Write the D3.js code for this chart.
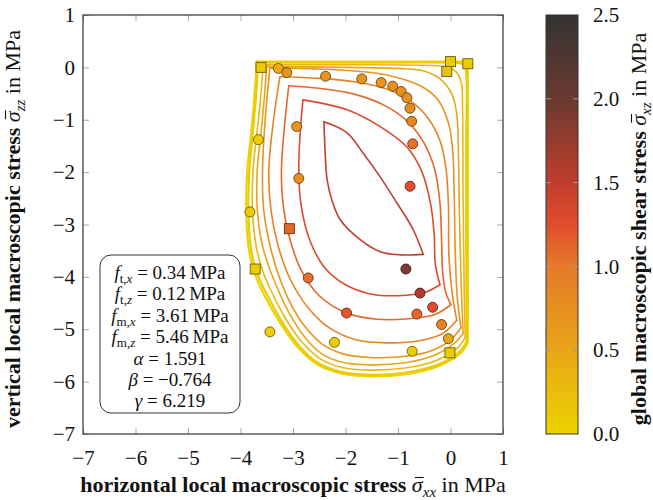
<!doctype html>
<html>
  <head>
    <meta charset="utf-8"/>
    <title>Yield surface</title>
    <style>
      body, html { margin: 0; padding: 0; background: white; }
      svg text { font-family: "Liberation Serif", "DejaVu Serif", serif; fill: #111; }
      .grid-tick { stroke: #a8a8a8; stroke-width: 1; }
      svg text.tick-label { font-size: 21px; }
      svg text.axis-title { font-size: 22px; }
      .legend text { font-size: 19px; }
    </style>
    <script src="https://d3js.org/d3.v7.min.js"></script>
  </head>
  <body>
    <svg width="653" height="500"></svg>
    <script>
      // shear level of each contour (outer yellow -> inner dark red)
      var contourShear = [0.0, 0.1, 0.3, 0.5, 0.7, 0.9, 1.1, 1.3, 1.5];

      // upper-right arc of each contour: top-left corner -> bottom-right corner
      var contourUpper = [
        [[-3.69,0.11],[-2.0,0.11],[0.0,0.11],[0.30,0.11],[0.33,0.10],[0.33,0.05],[0.33,-1.5],[0.33,-3.5],[0.33,-5.25]],
        [[-3.66,0.09],[-2.0,0.09],[0.0,0.09],[0.18,0.08],[0.27,0.03],[0.30,-0.10],[0.30,-1.5],[0.30,-3.5],[0.31,-5.23]],
        [[-3.57,0.05],[-2.0,0.05],[-0.5,0.04],[-0.08,0.01],[0.12,-0.10],[0.21,-0.32],[0.23,-0.8],[0.24,-2.5],[0.26,-4.2],[0.28,-5.16]],
        [[-3.50,0.02],[-2.0,0.0],[-1.0,-0.02],[-0.54,-0.06],[-0.20,-0.22],[0.03,-0.52],[0.12,-0.90],[0.15,-1.6],[0.17,-2.8],[0.20,-4.0],[0.24,-5.08]],
        [[-3.44,-0.01],[-2.5,-0.03],[-1.82,-0.07],[-1.19,-0.15],[-0.54,-0.37],[-0.24,-0.62],[-0.04,-1.06],[0.04,-1.57],[0.07,-2.4],[0.09,-3.5],[0.13,-4.4],[0.20,-4.97]],
        [[-3.25,-0.18],[-2.5,-0.21],[-1.8,-0.28],[-1.2,-0.42],[-0.75,-0.65],[-0.42,-0.98],[-0.2,-1.4],[-0.09,-1.9],[-0.04,-2.6],[-0.03,-3.6],[0.03,-4.3],[0.12,-4.83]],
        [[-3.08,-0.35],[-2.5,-0.40],[-1.8,-0.52],[-1.25,-0.73],[-0.82,-1.03],[-0.5,-1.45],[-0.3,-1.95],[-0.2,-2.6],[-0.17,-3.3],[-0.15,-3.9],[-0.09,-4.3],[0.01,-4.53]],
        [[-2.81,-0.62],[-1.97,-0.81],[-1.34,-1.13],[-0.83,-1.52],[-0.55,-1.98],[-0.38,-2.6],[-0.31,-3.2],[-0.29,-3.75],[-0.20,-4.15]],
        [[-2.41,-1.04],[-1.97,-1.25],[-1.67,-1.63],[-1.34,-2.09],[-1.02,-2.59],[-0.71,-3.10],[-0.52,-3.57]]
      ];

      // lower-left arc of each contour: bottom-right corner -> top-left corner
      var contourLower = [
        [[0.33,-5.25],[0.22,-5.43],[-0.24,-5.71],[-0.87,-5.86],[-1.53,-5.90],[-2.10,-5.84],[-2.54,-5.67],[-2.92,-5.33],[-3.25,-4.87],[-3.55,-4.34],[-3.72,-3.96],[-3.84,-3.48],[-3.89,-2.78],[-3.87,-1.95],[-3.80,-1.30],[-3.74,-0.62],[-3.69,0.11]],
        [[0.31,-5.23],[0.19,-5.41],[-0.25,-5.68],[-0.87,-5.83],[-1.53,-5.87],[-2.10,-5.81],[-2.53,-5.64],[-2.90,-5.30],[-3.22,-4.84],[-3.51,-4.31],[-3.68,-3.94],[-3.80,-3.46],[-3.85,-2.78],[-3.83,-1.95],[-3.77,-1.30],[-3.71,-0.62],[-3.66,0.09]],
        [[0.28,-5.16],[0.13,-5.36],[-0.28,-5.60],[-0.87,-5.74],[-1.53,-5.78],[-2.10,-5.72],[-2.50,-5.55],[-2.85,-5.22],[-3.15,-4.78],[-3.42,-4.26],[-3.58,-3.88],[-3.70,-3.42],[-3.77,-2.76],[-3.76,-1.95],[-3.69,-1.28],[-3.62,-0.62],[-3.57,0.05]],
        [[0.24,-5.08],[0.06,-5.28],[-0.32,-5.50],[-0.87,-5.64],[-1.53,-5.68],[-2.10,-5.62],[-2.48,-5.45],[-2.80,-5.12],[-3.08,-4.68],[-3.32,-4.16],[-3.47,-3.78],[-3.60,-3.33],[-3.68,-2.72],[-3.68,-1.95],[-3.61,-1.25],[-3.55,-0.62],[-3.50,0.02]],
        [[0.20,-4.97],[-0.02,-5.22],[-0.45,-5.44],[-1.0,-5.53],[-1.53,-5.54],[-2.05,-5.47],[-2.45,-5.28],[-2.78,-4.94],[-3.05,-4.50],[-3.28,-3.95],[-3.45,-3.35],[-3.56,-2.7],[-3.58,-1.95],[-3.53,-1.0],[-3.44,-0.01]],
        [[0.12,-4.83],[-0.15,-5.08],[-0.6,-5.22],[-1.2,-5.26],[-1.8,-5.20],[-2.3,-4.98],[-2.72,-4.58],[-3.05,-4.05],[-3.28,-3.42],[-3.42,-2.72],[-3.46,-1.95],[-3.37,-1.0],[-3.25,-0.18]],
        [[0.01,-4.53],[-0.3,-4.72],[-0.8,-4.80],[-1.4,-4.81],[-2.0,-4.68],[-2.5,-4.36],[-2.85,-3.86],[-3.08,-3.2],[-3.20,-2.5],[-3.22,-1.95],[-3.16,-1.1],[-3.08,-0.35]],
        [[-0.20,-4.15],[-0.50,-4.30],[-1.0,-4.36],[-1.5,-4.33],[-2.0,-4.15],[-2.4,-3.82],[-2.68,-3.3],[-2.85,-2.6],[-2.89,-1.95],[-2.86,-1.2],[-2.81,-0.62]],
        [[-0.52,-3.57],[-0.96,-3.58],[-1.34,-3.52],[-1.72,-3.29],[-2.10,-2.91],[-2.26,-2.53],[-2.35,-2.15],[-2.39,-1.57],[-2.41,-1.04]]
      ];

      // experiments, circles
      var circleX = [-3.28,-3.12,-2.38,-1.69,-1.32,-1.10,-0.94,-0.83,-0.77,-0.74,-0.72,-2.93,-2.89,-3.66,-3.82,-0.77,-0.85,-2.71,-1.98,-0.58,-0.34,-0.64,-0.17,-0.04,-0.73,-2.21,-3.44];
      var circleZ = [-0.02,-0.10,-0.17,-0.22,-0.29,-0.36,-0.46,-0.58,-0.78,-1.03,-1.46,-1.13,-2.12,-1.38,-2.76,-2.27,-3.85,-4.02,-4.69,-4.31,-4.58,-4.71,-4.91,-5.18,-5.42,-5.25,-5.05];
      var circleShear = [0.45,0.7,0.7,0.7,0.7,0.75,0.75,0.75,0.8,0.85,1.05,0.7,0.75,0.05,0.05,1.25,1.9,1.05,1.2,1.6,1.25,1.1,0.9,0.5,0.08,0.08,0.05];

      // experiments, squares
      var squareX = [-3.61, 0.00, -0.07, 0.33, -3.07, -3.72, -0.01];
      var squareZ = [0.00, 0.11, -0.08, 0.07, -3.08, -3.85, -5.45];
      var squareShear = [0.1, 0.1, 0.2, 0.1, 1.1, 0.1, 0.1];

      var xTicks = [-7, -6, -5, -4, -3, -2, -1, 0, 1];
      var yTicks = [-7, -6, -5, -4, -3, -2, -1, 0, 1];
      var barTicks = [0, 0.5, 1.0, 1.5, 2.0, 2.5];

      var paramNames = [["f", "t,", "x"], ["f", "t,", "z"], ["f", "m,", "x"], ["f", "m,", "z"], ["α"], ["β"], ["γ"]];
      var paramValues = ["0.34", "0.12", "3.61", "5.46", "1.591", "−0.764", "6.219"];

      var colorDomain = [0, 0.5, 1.0, 1.25, 1.5, 2.0, 2.5];
      var colorRange = ["#ecd400", "#e9a619", "#e67a29", "#e14c2e", "#c13e2c", "#6a3a31", "#333333"];

      var svg = d3.select("svg");
      var x = d3.scaleLinear().domain([-7, 1]).range([83, 503]);
      var y = d3.scaleLinear().domain([-7, 1]).range([434, 15]);
      var color = d3.scaleLinear().domain(colorDomain).range(colorRange);

      // inward ticks on all four sides
      var tl = 6;
      svg.append("g").attr("transform", "translate(0,434)")
        .call(d3.axisBottom(x).tickValues(xTicks).tickSizeInner(-tl).tickSizeOuter(0).tickPadding(16))
        .call(function(g) { g.select(".domain").remove(); });
      svg.append("g").attr("transform", "translate(0,15)")
        .call(d3.axisTop(x).tickValues(xTicks).tickSizeInner(-tl).tickSizeOuter(0).tickFormat(""))
        .call(function(g) { g.select(".domain").remove(); });
      svg.append("g").attr("transform", "translate(83,0)")
        .call(d3.axisLeft(y).tickValues(yTicks).tickSizeInner(-tl).tickSizeOuter(0).tickPadding(8))
        .call(function(g) { g.select(".domain").remove(); });
      svg.append("g").attr("transform", "translate(503,0)")
        .call(d3.axisRight(y).tickValues(yTicks).tickSizeInner(-tl).tickSizeOuter(0).tickFormat(""))
        .call(function(g) { g.select(".domain").remove(); });

      svg.selectAll(".tick line").attr("class", "grid-tick");
      svg.selectAll(".tick text").attr("class", "tick-label");

      // contours
      var line = d3.line()
        .x(function(d) { return x(d[0]); })
        .y(function(d) { return y(d[1]); })
        .curve(d3.curveCatmullRom.alpha(0.5));

      var plot = svg.append("g");
      contourShear.forEach(function(s, i) {
        var w = i < 2 ? 2.2 : 1.6;
        [contourUpper[i], contourLower[i]].forEach(function(pts) {
          plot.append("path")
            .attr("d", line(pts))
            .attr("fill", "none")
            .attr("stroke", color(s))
            .attr("stroke-width", w)
            .attr("stroke-linejoin", "round")
            .attr("stroke-linecap", "round");
        });
      });

      // squares
      plot.selectAll(".sq")
        .data(squareX.map(function(d, i) { return [d, squareZ[i], squareShear[i]]; }))
        .enter().append("rect")
          .attr("x", function(d) { return x(d[0]) - 5; })
          .attr("y", function(d) { return y(d[1]) - 5; })
          .attr("width", 10).attr("height", 10)
          .attr("fill", function(d) { return color(d[2]); })
          .attr("stroke", function(d) { return d3.color(color(d[2])).darker(2.2); })
          .attr("stroke-width", 0.9);

      // circles
      plot.selectAll(".pt")
        .data(circleX.map(function(d, i) { return [d, circleZ[i], circleShear[i]]; }))
        .enter().append("circle")
          .attr("cx", function(d) { return x(d[0]); })
          .attr("cy", function(d) { return y(d[1]); })
          .attr("r", 5)
          .attr("fill", function(d) { return color(d[2]); })
          .attr("stroke", function(d) { return d3.color(color(d[2])).darker(2.2); })
          .attr("stroke-width", 0.9);

      // frame
      svg.append("rect")
        .attr("x", 83).attr("y", 15).attr("width", 420).attr("height", 419)
        .attr("fill", "none").attr("stroke", "#333").attr("stroke-width", 1.2);

      // legend box
      var legend = svg.append("g").attr("class", "legend");
      legend.append("rect")
        .attr("x", 100).attr("y", 255).attr("width", 140).attr("height", 158)
        .attr("rx", 11).attr("fill", "white").attr("stroke", "#333").attr("stroke-width", 1);

      paramNames.forEach(function(p, i) {
        var t = legend.append("text")
          .attr("x", 170).attr("y", 279 + i * 21.4)
          .attr("text-anchor", "middle");
        t.append("tspan").attr("font-style", "italic").text(p[0]);
        if (p.length > 1) {
          t.append("tspan").attr("font-size", "13px").attr("dy", 4).text(p[1]);
          t.append("tspan").attr("font-size", "13px").attr("font-style", "italic").text(p[2]);
          t.append("tspan").attr("dy", -4).text(" = " + paramValues[i] + "\u2009MPa");
        } else {
          t.append("tspan").text(" = " + paramValues[i]);
        }
      });

      // colorbar
      var bx = 546, bw = 32;
      var cy = d3.scaleLinear().domain([0, 2.5]).range([434, 15]);
      var grad = svg.append("defs").append("linearGradient")
        .attr("id", "cbar").attr("x1", 0).attr("y1", 1).attr("x2", 0).attr("y2", 0);
      colorDomain.forEach(function(v, i) {
        grad.append("stop").attr("offset", v / 2.5).attr("stop-color", colorRange[i]);
      });
      svg.append("rect")
        .attr("x", bx).attr("y", 15).attr("width", bw).attr("height", 419)
        .attr("fill", "url(#cbar)").attr("stroke", "#333").attr("stroke-width", 1);
      var cb = svg.append("g").attr("transform", "translate(" + (bx + bw) + ",0)")
        .call(d3.axisRight(cy).tickValues(barTicks).tickSizeInner(0).tickSizeOuter(0).tickPadding(15)
          .tickFormat(d3.format(".1f")))
        .call(function(g) { g.select(".domain").remove(); });
      cb.selectAll("text").attr("class", "tick-label");
      svg.selectAll(".cbtick")
        .data(barTicks.slice(1, -1))
        .enter().append("path")
          .attr("d", function(d) {
            return "M" + bx + "," + cy(d) + "h5M" + (bx + bw) + "," + cy(d) + "h-5";
          })
          .attr("stroke", "#999").attr("stroke-width", 1);

      // axis titles, bar over sigma drawn as a line on the glyph position
      function title(g, bold, sub) {
        var t = g.append("text").attr("class", "axis-title").attr("text-anchor", "middle");
        t.append("tspan").attr("font-weight", "bold").text(bold + " ");
        t.append("tspan").attr("font-style", "italic").text("σ");
        t.append("tspan").attr("font-style", "italic").attr("font-size", "15px").attr("dy", 5).text(sub);
        t.append("tspan").attr("dy", -5).text(" in MPa");
        var e = t.node().getExtentOfChar(bold.length + 1);
        g.append("line")
          .attr("x1", e.x + 3).attr("x2", e.x + e.width + 1)
          .attr("y1", -14.5).attr("y2", -14.5)
          .attr("stroke", "#111").attr("stroke-width", 1.1);
      }
      svg.append("g").attr("transform", "translate(293,492)")
        .call(title, "horizontal local macroscopic stress", "xx");
      svg.append("g").attr("transform", "translate(20,229) rotate(-90)")
        .call(title, "vertical local macroscopic stress", "zz");
      svg.append("g").attr("transform", "translate(646,229) rotate(-90)")
        .call(title, "global macroscopic shear stress", "xz");
    </script>
  </body>
</html>
